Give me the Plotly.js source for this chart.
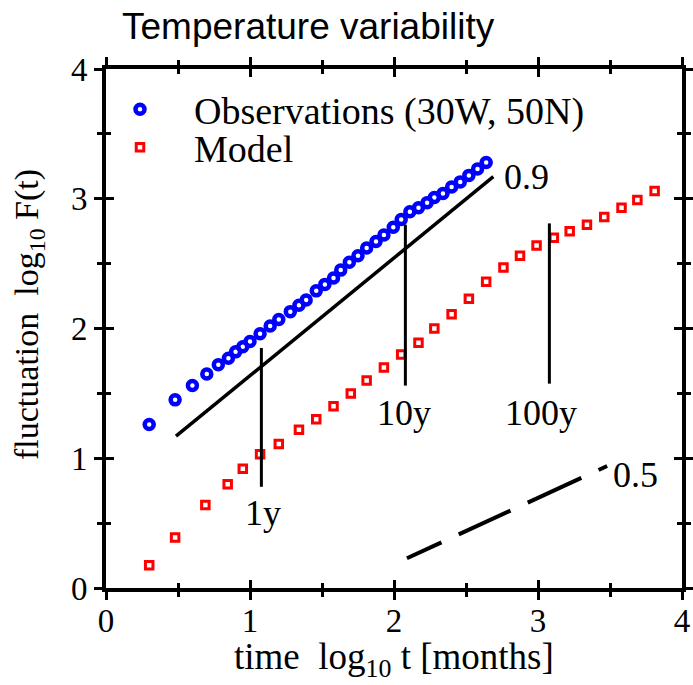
<!DOCTYPE html>
<html>
<head>
<meta charset="utf-8">
<script src="https://cdn.plot.ly/plotly-3.0.1.min.js"></script>
<style>html,body{margin:0;padding:0;background:#fff;}#chart{width:693px;height:685px;}</style>
</head>
<body>
<div id="chart"></div>
<script>
// Observations (30W, 50N): log10 t [months], log10 F(t)
const obsX = [0.30,0.48,0.60,0.70,0.78,0.85,0.90,0.95,1.00,1.07,1.14,1.20,1.28,1.34,1.39,1.46,1.52,1.58,1.63,1.69,1.75,1.81,1.875,1.93,1.995,2.05,2.11,2.17,2.23,2.28,2.34,2.40,2.46,2.52,2.58,2.64];
const obsY = [1.26,1.45,1.56,1.65,1.72,1.77,1.82,1.86,1.90,1.96,2.02,2.07,2.13,2.18,2.22,2.29,2.34,2.39,2.45,2.51,2.56,2.62,2.67,2.72,2.78,2.84,2.90,2.93,2.97,3.01,3.04,3.09,3.13,3.18,3.23,3.28];
// Model
const modX = [0.30,0.48,0.69,0.845,0.95,1.07,1.20,1.34,1.46,1.58,1.70,1.81,1.93,2.05,2.17,2.28,2.40,2.52,2.64,2.76,2.875,2.99,3.11,3.22,3.34,3.46,3.58,3.69,3.81];
const modY = [0.175,0.39,0.64,0.80,0.92,1.03,1.11,1.22,1.30,1.40,1.50,1.60,1.70,1.80,1.89,2.00,2.11,2.23,2.36,2.47,2.56,2.64,2.70,2.75,2.80,2.86,2.93,2.99,3.06];
// Guide lines
const slope09X = [0.486, 2.69];
const slope09Y = [1.17, 3.17];
const slope05X = [2.09, 3.48];
const slope05Y = [0.229, 0.94];
const markX = [1.079, 2.079, 3.079];
const markTop = [1.85, 2.80, 2.81];
const markBottom = [0.78, 1.56, 1.575];
const markLabels = ["1y", "10y", "100y"];
const markLabelX = [1.09, 2.07, 3.02];
const markLabelY = [0.58, 1.35, 1.35];
const tickVals = [0, 1, 2, 3, 4];
const tickText = ["0", "1", "2", "3", "4"];

const serif = "Liberation Serif, Times New Roman, serif";
const traces = [];
traces.push({x: obsX, y: obsY, mode: 'markers', type: 'scatter', name: 'Observations (30W, 50N)',
  marker: {symbol: 'circle-open', size: 9, color: '#0000ff', line: {width: 4.5, color: '#0000ff'}},
  legend: 'legend'});
traces.push({x: modX, y: modY, mode: 'markers', type: 'scatter', name: 'Model',
  marker: {symbol: 'square-open', size: 7.5, color: '#ff0000', line: {width: 3, color: '#ff0000'}},
  legend: 'legend2'});
traces.push({x: slope09X, y: slope09Y, mode: 'lines', line: {color: '#000', width: 3.5}, showlegend: false, hoverinfo: 'skip'});
traces.push({x: slope05X, y: slope05Y, mode: 'lines', line: {color: '#000', width: 4, dash: '38px,19px,57px,19px,59px,19px,10px'}, showlegend: false, hoverinfo: 'skip'});
for (let i = 0; i < markX.length; i++) {
  traces.push({x: [markX[i], markX[i]], y: [markBottom[i], markTop[i]], mode: 'lines', line: {color: '#000', width: 3}, showlegend: false, hoverinfo: 'skip'});
}
// overlay axes for the other half of the crossing ticks
traces.push({x: [0], y: [0], xaxis: 'x2', yaxis: 'y2', mode: 'markers', marker: {opacity: 0}, showlegend: false, hoverinfo: 'skip'});

const annotations = [];
for (let i = 0; i < markX.length; i++) {
  annotations.push({x: markLabelX[i], y: markLabelY[i], text: markLabels[i], showarrow: false, font: {family: serif, size: 36, color: '#000'}, xanchor: 'center', yanchor: 'middle'});
}
annotations.push({x: 2.92, y: 3.17, text: '0.9', showarrow: false, font: {family: serif, size: 36, color: '#000'}, xanchor: 'center', yanchor: 'middle'});
annotations.push({x: 3.68, y: 0.87, text: '0.5', showarrow: false, font: {family: serif, size: 36, color: '#000'}, xanchor: 'center', yanchor: 'middle'});
// y axis title
annotations.push({xref: 'paper', yref: 'paper', x: (29 - 106) / 576, y: (588 - 315) / 519, textangle: -90,
  text: 'fluctuation\u00a0\u00a0log<sub>10</sub> F(t)', showarrow: false, font: {family: serif, size: 34, color: '#000'},
  xanchor: 'center', yanchor: 'middle'});
// x axis title
annotations.push({xref: 'paper', yref: 'paper', x: 0.5, y: -(659 - 588) / 519,
  text: 'time\u00a0\u00a0log<sub>10</sub> t [months]', showarrow: false, font: {family: serif, size: 37, color: '#000'},
  xanchor: 'center', yanchor: 'middle'});

const axBase = {range: [0, 4], showgrid: false, zeroline: false, showline: true, linewidth: 4, linecolor: '#000',
  tickvals: tickVals, ticktext: tickText, ticklen: 8, tickwidth: 3, tickcolor: '#000', mirror: 'allticks',
  minor: {dtick: 0.5, tick0: 0, ticklen: 5, tickwidth: 3, tickcolor: '#000', ticks: 'outside', showgrid: false}};

const layout = {
  width: 693, height: 685,
  margin: {l: 106, r: 11, t: 69, b: 97},
  paper_bgcolor: '#fff', plot_bgcolor: '#fff',
  title: {text: 'Temperature variability', xref: 'container', yref: 'container', x: 122/693, xanchor: 'left', y: 1 - 26/685, yanchor: 'middle',
    font: {family: 'Liberation Sans, Arial, sans-serif', size: 37, color: '#000'}},
  xaxis: Object.assign({}, axBase, {ticks: 'inside', tickfont: {family: serif, size: 33, color: '#000'},
    minor: Object.assign({}, axBase.minor, {ticks: 'inside'})}),
  yaxis: Object.assign({}, axBase, {ticks: 'outside', tickfont: {family: serif, size: 33, color: '#000'}}),
  xaxis2: Object.assign({}, axBase, {overlaying: 'x', ticks: 'outside', showticklabels: false}),
  yaxis2: Object.assign({}, axBase, {overlaying: 'y', ticks: 'inside', showticklabels: false, minor: Object.assign({}, axBase.minor, {ticks: 'inside'})}),
  legend: {x: (86 - 106) / 576, y: 1 - (78 - 69) / 519, xanchor: 'left', yanchor: 'top', bgcolor: 'rgba(0,0,0,0)',
    font: {family: serif, size: 38, color: '#000'}, itemwidth: 98},
  legend2: {x: (86 - 106) / 576, y: 1 - (116 - 69) / 519, xanchor: 'left', yanchor: 'top', bgcolor: 'rgba(0,0,0,0)',
    font: {family: serif, size: 38, color: '#000'}, itemwidth: 98},
  annotations: annotations,
  showlegend: true
};
Plotly.newPlot('chart', traces, layout, {displayModeBar: false, staticPlot: true});
</script>
</body>
</html>
